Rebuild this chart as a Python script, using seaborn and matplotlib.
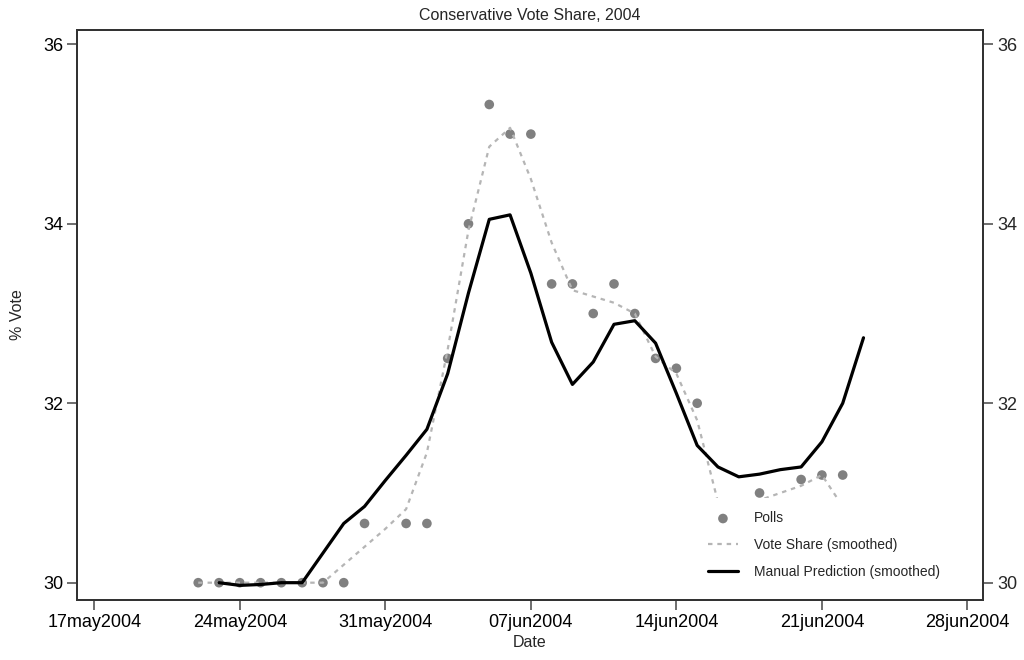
import matplotlib
matplotlib.use("Agg")
import matplotlib.pyplot as plt
import seaborn as sns
import pandas as pd

# ---------------- data ----------------
poll_dates = ["2004-05-22", "2004-05-23", "2004-05-24", "2004-05-25", "2004-05-26",
              "2004-05-27", "2004-05-28", "2004-05-29", "2004-05-30", "2004-06-01",
              "2004-06-02", "2004-06-03", "2004-06-04", "2004-06-05", "2004-06-06",
              "2004-06-07", "2004-06-08", "2004-06-09", "2004-06-10", "2004-06-11",
              "2004-06-12", "2004-06-13", "2004-06-14", "2004-06-15", "2004-06-18",
              "2004-06-20", "2004-06-21", "2004-06-22"]
poll_values = [30.0, 30.0, 30.0, 30.0, 30.0,
               30.0, 30.0, 30.0, 30.66, 30.66,
               30.66, 32.5, 34.0, 35.33, 35.0,
               35.0, 33.33, 33.33, 33.0, 33.33,
               33.0, 32.5, 32.39, 32.0, 31.0,
               31.15, 31.2, 31.2]

share_dates = ["2004-05-22", "2004-05-23", "2004-05-24", "2004-05-25", "2004-05-26",
               "2004-05-27", "2004-05-28", "2004-05-29", "2004-05-30", "2004-05-31",
               "2004-06-01", "2004-06-02", "2004-06-03", "2004-06-04", "2004-06-05",
               "2004-06-06", "2004-06-07", "2004-06-08", "2004-06-09", "2004-06-10",
               "2004-06-11", "2004-06-12", "2004-06-13", "2004-06-14", "2004-06-15",
               "2004-06-16", "2004-06-17", "2004-06-18", "2004-06-19", "2004-06-20",
               "2004-06-21", "2004-06-22"]
share_values = [30.0, 30.0, 30.0, 30.0, 30.0,
                30.0, 30.0, 30.2, 30.4, 30.6,
                30.82, 31.45, 32.6, 33.93, 34.86,
                35.07, 34.5, 33.79, 33.26, 33.19,
                33.12, 33.0, 32.52, 32.33, 31.81,
                30.9, 30.8, 30.92, 31.0, 31.08,
                31.2, 30.85]

pred_dates = ["2004-05-23", "2004-05-24", "2004-05-25", "2004-05-26", "2004-05-27",
              "2004-05-28", "2004-05-29", "2004-05-30", "2004-05-31", "2004-06-01",
              "2004-06-02", "2004-06-03", "2004-06-04", "2004-06-05", "2004-06-06",
              "2004-06-07", "2004-06-08", "2004-06-09", "2004-06-10", "2004-06-11",
              "2004-06-12", "2004-06-13", "2004-06-14", "2004-06-15", "2004-06-16",
              "2004-06-17", "2004-06-18", "2004-06-19", "2004-06-20", "2004-06-21",
              "2004-06-22", "2004-06-23"]
pred_values = [30.0, 29.97, 29.98, 30.0, 30.0,
               30.33, 30.66, 30.85, 31.14, 31.42,
               31.71, 32.33, 33.23, 34.05, 34.1,
               33.45, 32.68, 32.21, 32.46, 32.88,
               32.92, 32.67, 32.11, 31.53, 31.29,
               31.18, 31.21, 31.26, 31.29, 31.57,
               32.0, 32.73]

tick_dates = ["2004-05-17", "2004-05-24", "2004-05-31", "2004-06-07",
              "2004-06-14", "2004-06-21", "2004-06-28"]
tick_labels = ["17may2004", "24may2004", "31may2004", "07jun2004",
               "14jun2004", "21jun2004", "28jun2004"]
y_ticks = [30, 32, 34, 36]

# ---------------- style ----------------
sns.set_style("white")
plt.rcParams["font.family"] = ["Liberation Sans", "DejaVu Sans"]

fig = plt.figure(figsize=(10.24, 6.6), dpi=100)
ax = fig.add_axes([0.0752, 0.0909, 0.8848, 0.8636])

polls = pd.DataFrame({"date": pd.to_datetime(poll_dates), "vote": poll_values})
share = pd.DataFrame({"date": pd.to_datetime(share_dates), "vote": share_values})
pred = pd.DataFrame({"date": pd.to_datetime(pred_dates), "vote": pred_values})

sns.scatterplot(data=polls, x="date", y="vote", ax=ax, color="#808080", s=48,
                edgecolor="none", label="Polls", zorder=2)
sns.lineplot(data=share, x="date", y="vote", ax=ax, color="#b5b5b5", lw=1.6,
             linestyle=(0, (2, 2.2)), label="Vote Share (smoothed)", zorder=3)
sns.lineplot(data=pred, x="date", y="vote", ax=ax, color="black", lw=2.3,
             label="Manual Prediction (smoothed)", zorder=4)

t0 = pd.Timestamp("2004-05-17")
ax.set_xlim(t0 - pd.Timedelta(days=0.83), t0 + pd.Timedelta(days=42.75))
ax.set_ylim(29.807, 36.16)

ax.set_xticks(pd.to_datetime(tick_dates))
ax.set_xticklabels(tick_labels)
ax.set_yticks(y_ticks)
ax.set_yticklabels([str(v) for v in y_ticks])

for sp in ax.spines.values():
    sp.set_color("#333333")
    sp.set_linewidth(1.4)

ax.tick_params(axis="both", direction="out", length=7, width=1.2, color="#555555",
               labelsize=13, pad=3, labelcolor="black")
ax.tick_params(axis="x", bottom=True)
ax.tick_params(axis="y", left=True)

ax.set_xlabel("Date", fontsize=11.5, labelpad=3)
ax.set_ylabel("% Vote", fontsize=11.5, labelpad=13)
ax.set_title("Conservative Vote Share, 2004", fontsize=11.5, pad=7)

ax2 = ax.twinx()
ax2.set_ylim(ax.get_ylim())
ax2.set_yticks(y_ticks)
ax2.set_yticklabels([str(v) for v in y_ticks])
ax2.tick_params(axis="y", direction="out", length=7, width=1.2, color="#555555",
                labelsize=13, pad=3, right=True)
for sp in ax2.spines.values():
    sp.set_color("#333333")
    sp.set_linewidth(1.4)
ax2.grid(False)

leg = ax.legend(loc="upper left", bbox_to_anchor=(0.6815, 0.179), borderaxespad=0,
                frameon=True, facecolor="white", edgecolor="none", framealpha=1,
                fontsize=10, handlelength=2.2, handletextpad=1.15,
                labelspacing=0.92, borderpad=0.95, markerscale=1.0)
leg.set_zorder(10)
ax.set_zorder(ax2.get_zorder() + 1)
ax.patch.set_visible(False)

fig.savefig("out.png", dpi=100)
